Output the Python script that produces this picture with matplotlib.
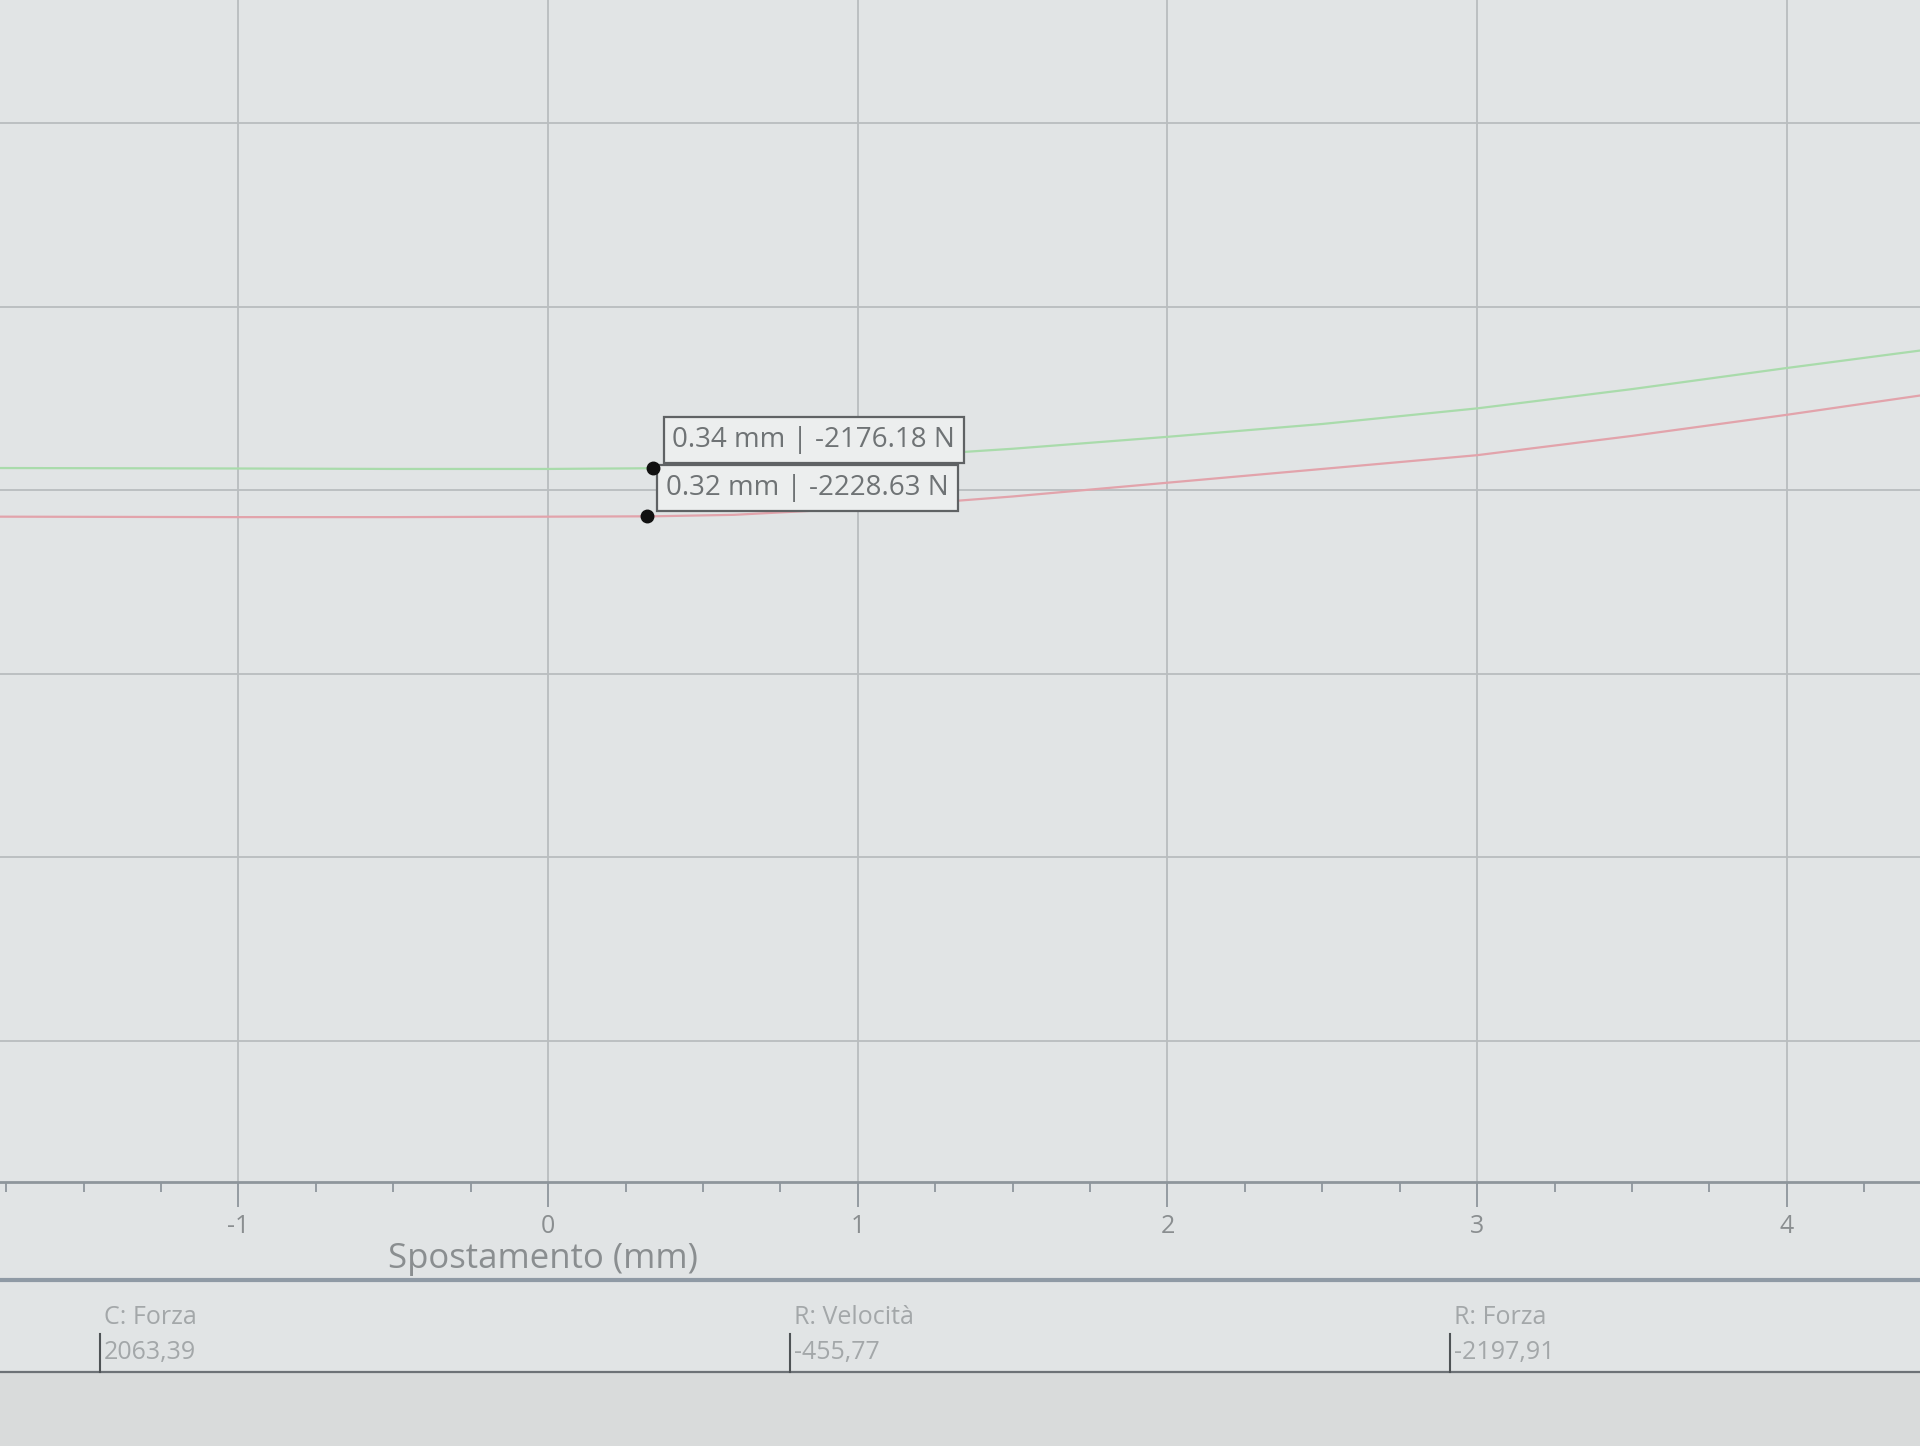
import matplotlib.pyplot as plt
from matplotlib.lines import Line2D

# curve samples (displacement mm, force N)
spost = [-1.77, -1.0, -0.5, 0.0, 0.34, 0.6, 1.0, 1.5, 2.0, 2.5, 3.0, 3.5, 4.0, 4.43]
forza_verde = [-2176, -2176.5, -2177, -2177, -2176.2, -2174, -2166, -2155,
               -2142, -2128, -2111, -2090, -2067, -2048]
forza_rossa = [-2229, -2229.5, -2229.5, -2229, -2228.6, -2227, -2220, -2207,
               -2192, -2177, -2162, -2141, -2118, -2097]

# cursor tooltips
cursori_x = [0.34, 0.32]
cursori_y = [-2176.18, -2228.63]
cursori_txt = ["0.34 mm | -2176.18 N", "0.32 mm | -2228.63 N"]

# status bar
stato_nomi = ["C: Forza", "R: Velocità", "R: Forza"]
stato_valori = ["2063,39", "-455,77", "-2197,91"]

W, H = 1920, 1446
bg = "#e1e4e5"
plt.rcParams['font.family'] = ['Open Sans', 'DejaVu Sans']
plt.rcParams['axes.unicode_minus'] = False

fig = plt.figure(figsize=(W / 100, H / 100), dpi=100, facecolor=bg)

# overlay in pixel coordinates for the status bar
ov = fig.add_axes([0, 0, 1, 1], zorder=0)
ov.set_xlim(0, W)
ov.set_ylim(H, 0)
ov.axis('off')
ov.axhspan(1372, H, color="#d9dbdb", lw=0)

ax_bottom = 1182
ax = fig.add_axes([0, (H - ax_bottom) / H, 1, ax_bottom / H], zorder=1)
ax.set_facecolor(bg)
ax.set_xlim(-1.77, 4.43)
ax.set_ylim(-2954, -1666)

ax.plot(spost, forza_verde, color="#a9dbab", lw=1.6)
ax.plot(spost, forza_rossa, color="#e2a3ab", lw=1.6)

ax.set_xticks(range(-1, 5))
ax.set_xticks([v / 4 for v in range(-7, 18)], minor=True)
ax.set_yticks(range(-2800, -1700, 200))
ax.grid(True, which='major', color="#b9bdbf", lw=1.3)
ax.set_axisbelow(True)

for s in ['top', 'left', 'right']:
    ax.spines[s].set_visible(False)
ax.spines['bottom'].set_color("#8e969c")
ax.spines['bottom'].set_linewidth(2)
ax.tick_params(axis='y', left=False, labelleft=False)
ax.tick_params(axis='x', which='major', length=18, width=1.3, color="#8e969c",
               labelsize=18, labelcolor="#8a8e90", pad=5)
ax.tick_params(axis='x', which='minor', length=7, width=1.3, color="#8e969c")

ax.set_xlabel("Spostamento (mm)", fontsize=25, color="#8a8e90")
ax.xaxis.set_label_coords(543 / W, -(1259 - ax_bottom) / ax_bottom)
ax.xaxis.label.set_va('center')

for cx, cy, t in zip(cursori_x, cursori_y, cursori_txt):
    ax.plot(cx, cy, 'o', color="#111111", ms=9, zorder=7)
    ax.annotate(t, (cx, cy), xytext=(19, 14), textcoords='offset pixels',
                ha='left', va='bottom', fontsize=20, color="#6f7375", zorder=6,
                bbox=dict(boxstyle='square,pad=0.32', fc="#eceeee",
                          ec="#5f6264", lw=1.6))

# status bar rules and fields
ov.add_line(Line2D([0, W], [1280, 1280], color="#8f9aa5", lw=3))
ov.add_line(Line2D([0, W], [1372, 1372], color="#6d7276", lw=1.6))
stato_x = [100, 790, 1450]
for x, nome, val in zip(stato_x, stato_nomi, stato_valori):
    ov.text(x + 4, 1317, nome, fontsize=18, color="#a3a7a9", va='center', ha='left')
    ov.text(x + 4, 1352, val, fontsize=18, color="#a3a7a9", va='center', ha='left')
    ov.add_line(Line2D([x, x], [1334, 1372], color="#4f5356", lw=1.5))

fig.savefig("out.png", dpi=100, facecolor=bg)
